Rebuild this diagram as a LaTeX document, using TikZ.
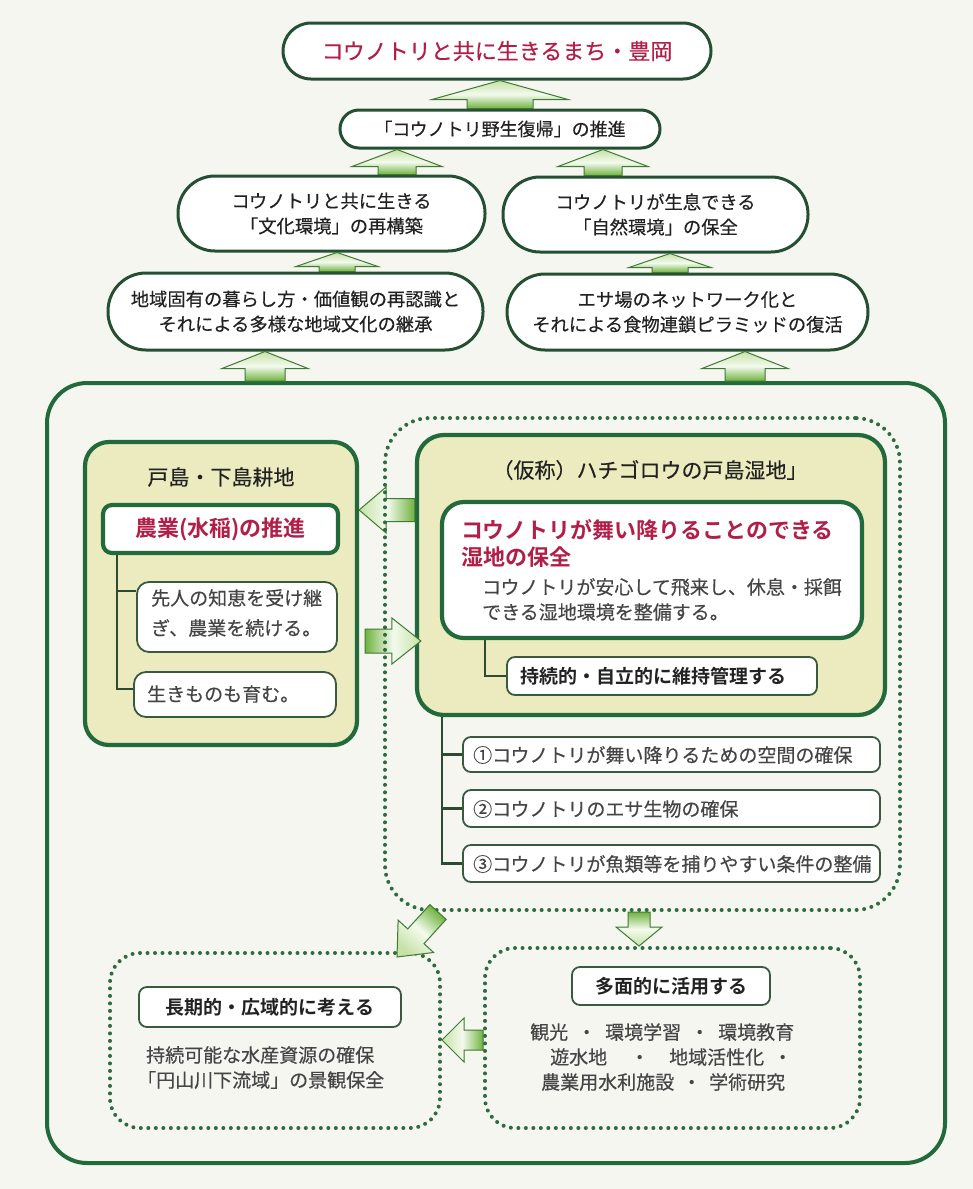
\documentclass[tikz,border=0pt]{standalone}
\usepackage{fontspec}
\setmainfont{Noto Sans CJK JP}[BoldFont={Noto Sans CJK JP Bold}]
\newfontfamily\jpmed{Noto Sans CJK JP}[FakeBold=0.35]
\usetikzlibrary{calc}
\definecolor{bg}{HTML}{F5F6EF}
\definecolor{dkgreen}{HTML}{226A3C}
\definecolor{stadc}{HTML}{254F32}
\definecolor{thinc}{HTML}{3A5A40}
\definecolor{cream}{HTML}{ECEBC0}
\definecolor{redtxt}{HTML}{B11F48}
\definecolor{txt}{HTML}{222222}
\definecolor{graytxt}{HTML}{454545}
\definecolor{dotc}{HTML}{2F6B40}
\definecolor{treec}{HTML}{2C4B30}
\definecolor{arrTop}{HTML}{C6E2A6}
\definecolor{arrMid}{HTML}{F4FAEE}
\definecolor{arrBot}{HTML}{6FB23E}
\definecolor{arrLine}{HTML}{3E7A33}
% #1 tail, #2 tip, #3 shaft half width, #4 head half width, #5 head length, #6 shading angle
\newcommand{\blockarrow}[6]{%
  \coordinate (bah) at ($(#2)!#5!(#1)$);
  \draw[barrow, shading angle=#6] ($(#1)!#3!90:(#2)$) -- ($(bah)!#3!-90:(#1)$) -- ($(bah)!#4!-90:(#1)$) -- (#2) -- ($(bah)!#4!90:(#1)$) -- ($(bah)!#3!90:(#1)$) -- ($(#1)!#3!-90:(#2)$) -- cycle;}
\newcommand{\bold}{\rmfamily\bfseries}
\begin{document}
\begin{tikzpicture}[x=1pt,y=-1pt,
  stadium/.style={draw=stadc, line width=3pt, fill=white, rounded corners=#1, inner sep=0pt, align=center, text=txt},
  greenbox/.style={draw=dkgreen, line width=4.2pt, rounded corners=#1, inner sep=0pt},
  thinbox/.style={draw=thinc, line width=1.8pt, fill=white, rounded corners=#1, inner sep=0pt, text=txt},
  dotbox/.style={draw=dotc, line width=4pt, dash pattern=on 0pt off 7.5pt, line cap=round, rounded corners=#1, inner sep=0pt},
  outerbox/.style={draw=dkgreen, line width=4pt, rounded corners=40pt, inner sep=0pt},
  tree/.style={draw=treec, line width=2.4pt},
  barrow/.style={draw=arrLine, line width=1pt, top color=arrTop, bottom color=arrBot, middle color=arrMid},
  lbl/.style={inner sep=0pt, text=txt},
  fs/.style 2 args={font=\jpmed\fontsize{#1pt}{#2pt}\selectfont}]
\useasboundingbox (0,0) rectangle (973,1189);
\fill[bg] (0,0) rectangle (973,1189);

% ---------- upper chain ----------
\node[stadium=28pt, minimum width=428pt, minimum height=56pt, fs={22}{22}, text=redtxt] (b1) at (497,51) {コウノトリと共に生きるまち・豊岡};
\node[stadium=19pt, minimum width=320pt, minimum height=38pt, fs={18}{18}] (b2) at (500,129) {「コウノトリ野生復帰」の推進};
\node[stadium=37pt, minimum width=307pt, minimum height=75pt, fs={18.3}{25}] (b3) at (331.5,213.5) {コウノトリと共に生きる\\「文化環境」の再構築};
\node[stadium=37pt, minimum width=305pt, minimum height=75pt, fs={18.3}{25}] (b4) at (655.5,214.5) {コウノトリが生息できる\\「自然環境」の保全};
\node[stadium=38pt, minimum width=375pt, minimum height=77pt, fs={18.3}{25}] (b5) at (295.5,311.5) {地域固有の暮らし方・価値観の再認識と\\それによる多様な地域文化の継承};
\node[stadium=38pt, minimum width=361pt, minimum height=76pt, fs={18.3}{25}] (b6) at (687.5,312) {エサ場のネットワーク化と\\それによる食物連鎖ピラミッドの復活};

\node[outerbox, minimum width=898pt, minimum height=780pt] (outer) at (496,773) {};

\coordinate (ax1) at (500,0);
\coordinate (ax2) at (397,0);
\coordinate (ax3) at (603,0);
\coordinate (ax4) at (337,0);
\coordinate (ax5) at (670,0);
\coordinate (ax6) at (265,0);
\coordinate (ax7) at (745,0);
\blockarrow{b2.north -| ax1}{b1.south -| ax1}{33pt}{68pt}{19pt}{0}
\blockarrow{b3.north -| ax2}{b2.south -| ax2}{19pt}{45pt}{17pt}{0}
\blockarrow{b4.north -| ax3}{b2.south -| ax3}{19pt}{45pt}{17pt}{0}
\blockarrow{b5.north -| ax4}{b3.south -| ax4}{18pt}{41pt}{14pt}{0}
\blockarrow{b6.north -| ax5}{b4.south -| ax5}{18pt}{41pt}{14pt}{0}
\blockarrow{outer.north -| ax6}{b5.south -| ax6}{20pt}{43pt}{17pt}{0}
\blockarrow{outer.north -| ax7}{b6.south -| ax7}{20pt}{43pt}{17pt}{0}

% ---------- left farmland block ----------
\node[greenbox=24pt, fill=cream, minimum width=272pt, minimum height=303pt] (b7) at (221,593.5) {};
\node[lbl, fs={21}{21}] (t7) at (221,477) {戸島・下島耕地};
\node[greenbox=9pt, fill=white, minimum width=235pt, minimum height=48pt, fs={22}{22}, text=redtxt] (b8) at (220.5,529) {\bold 農業(水稲)の推進};
\node[thinbox=12pt, minimum width=200pt, minimum height=70pt] (b9) at (237,617) {};
\node[lbl, anchor=west, fs={19}{19}, text=graytxt] (t9a) at (151,598) {先人の知恵を受け継};
\node[lbl, anchor=west, fs={19}{19}, text=graytxt] (t9b) at (151,628) {ぎ、農業を続ける。};
\node[thinbox=12pt, minimum width=202pt, minimum height=45pt] (b10) at (235,694.5) {};
\node[lbl, anchor=west, fs={19}{19}, text=graytxt] (t10) at (147,694) {生きものも育む。};
\coordinate (tx7) at (117,0);
\draw[tree] (b8.south -| tx7) |- ($(b9.north west)+(0,10)$);
\draw[tree] (b8.south -| tx7) |- ($(b10.north west)+(0,18)$);

% ---------- wetland block ----------
\node[greenbox=27pt, fill=cream, minimum width=468pt, minimum height=280pt] (b12) at (651,575) {};
\node[lbl, fs={21}{21}] (t12) at (650,470) {（仮称）ハチゴロウの戸島湿地」};
\node[greenbox=22pt, fill=white, minimum width=420pt, minimum height=136pt] (b13) at (652,570) {};
\node[lbl, anchor=west, fs={22}{22}, text=redtxt] (t13a) at (461,530) {\bold コウノトリが舞い降りることのできる};
\node[lbl, anchor=west, fs={22}{22}, text=redtxt] (t13b) at (461,557) {\bold 湿地の保全};
\node[lbl, anchor=west, fs={19}{19}, text=graytxt] (t13c) at (482,587) {コウノトリが安心して飛来し、休息・採餌};
\node[lbl, anchor=west, fs={19}{19}, text=graytxt] (t13d) at (482,612) {できる湿地環境を整備する。};
\node[thinbox=8pt, minimum width=310pt, minimum height=38pt] (b14) at (662,676) {};
\node[lbl, anchor=west, fs={19}{19}] (t14) at (520,676) {\bold 持続的・自立的に維持管理する};
\coordinate (tx13) at (485,0);
\draw[tree] (b13.south -| tx13) |- (b14.west);

\node[thinbox=8pt, minimum width=417pt, minimum height=35pt] (b15) at (671.5,754.5) {};
\node[thinbox=8pt, minimum width=417pt, minimum height=37pt] (b16) at (671.5,808.5) {};
\node[thinbox=8pt, minimum width=417pt, minimum height=37pt] (b17) at (671.5,863.5) {};
\node[lbl, anchor=west, fs={19}{19}, text=graytxt] (t15) at (473,755) {①コウノトリが舞い降りるための空間の確保};
\node[lbl, anchor=west, fs={19}{19}, text=graytxt] (t16) at (473,809) {②コウノトリのエサ生物の確保};
\node[lbl, anchor=west, fs={19}{19}, text=graytxt] (t17) at (473,864) {③コウノトリが魚類等を捕りやすい条件の整備};
\coordinate (tx12) at (442,0);
\draw[tree] (b12.south -| tx12) |- (b15.west);
\draw[tree] (b12.south -| tx12) |- (b16.west);
\draw[tree] (b12.south -| tx12) |- (b17.west);

% arrows between the two blocks
\coordinate (ay8) at (0,510);
\coordinate (ay9) at (0,641);
\coordinate (a9s) at ($(b7.east |- ay9)+(6,0)$);
\coordinate (a9e) at ($(b12.west |- ay9)+(6,0)$);
\blockarrow{b12.west |- ay8}{b7.east |- ay8}{11.5pt}{23pt}{27pt}{90}
\blockarrow{a9s}{a9e}{12pt}{23pt}{29pt}{-90}

\node[dotbox=45pt, minimum width=515pt, minimum height=492pt] (b11) at (642.5,664) {};

% ---------- bottom blocks ----------
\node[dotbox=30pt, minimum width=330pt, minimum height=175pt] (b18) at (275,1040.5) {};
\node[dotbox=30pt, minimum width=375pt, minimum height=180pt] (b19) at (672.5,1038) {};
\node[thinbox=8pt, minimum width=262pt, minimum height=40pt, fs={19}{19}] (b20) at (270,1007) {\bold 長期的・広域的に考える};
\node[lbl, anchor=west, fs={19}{19}, text=graytxt] (t18a) at (146,1055) {持続可能な水産資源の確保};
\node[lbl, anchor=west, fs={19}{19}, text=graytxt] (t18b) at (137,1080) {「円山川下流域」の景観保全};
\node[thinbox=8pt, minimum width=198pt, minimum height=38pt, fs={19}{19}] (b21) at (671,986) {\bold 多面的に活用する};
\node[lbl, anchor=west, fs={19}{19}, text=graytxt] (t19a) at (530,1032) {観光\hspace{9pt}・\hspace{9pt}環境学習\hspace{9pt}・\hspace{9pt}環境教育};
\node[lbl, anchor=west, fs={19}{19}, text=graytxt] (t19b) at (550,1057) {遊水地\hspace{23pt}・\hspace{20pt}地域活性化\hspace{9pt}・};
\node[lbl, anchor=west, fs={19}{19}, text=graytxt] (t19c) at (541,1082) {農業用水利施設\hspace{8pt}・\hspace{8pt}学術研究};

\coordinate (ax10) at (438,0);
\coordinate (ax11) at (639,0);
\coordinate (ay12) at (0,1040);
\coordinate (a10e) at ($(b18.north east)+(-45,6)$);
\blockarrow{b11.south -| ax10}{a10e}{11pt}{24pt}{28pt}{139.5}
\blockarrow{b11.south -| ax11}{b19.north -| ax11}{11pt}{23pt}{19pt}{180}
\blockarrow{b19.west |- ay12}{b18.east |- ay12}{10pt}{22pt}{22pt}{90}
\end{tikzpicture}
\end{document}
